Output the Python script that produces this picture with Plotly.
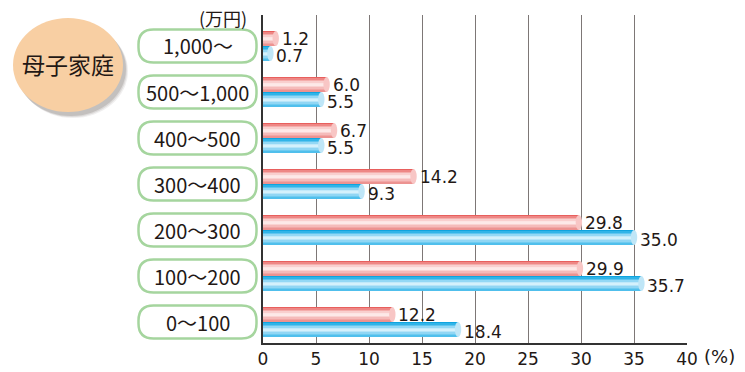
import plotly.graph_objects as go

# ---- data -------------------------------------------------------------
categories = ["1,000～", "500～1,000", "400～500", "300～400", "200～300", "100～200", "0～100"]
upper_vals = [1.2, 6.0, 6.7, 14.2, 29.8, 29.9, 12.2]   # pink bars
lower_vals = [0.7, 5.5, 5.5, 9.3, 35.0, 35.7, 18.4]    # blue bars
x_ticks = [0, 5, 10, 15, 20, 25, 30, 35, 40]
group_title = "母子家庭"
unit_y = "(万円)"
unit_x = "(%)"

# ---- geometry ---------------------------------------------------------
W, H = 745, 372
L, R, T, B = 263, 58, 15, 29
PW, PH = W - L - R, H - T - B
PX_PER_Y = 46.0
Y_RANGE = [-21 / PX_PER_Y, 6 + 31 / PX_PER_Y]
X_RANGE = [0, 40]
PX_PER_X = PW / (X_RANGE[1] - X_RANGE[0])

BAR_H = 15 / PX_PER_Y
N_STRIPS = 10
CAP_RX = 3.2 / PX_PER_X

FONT = "Noto Sans CJK JP"
NUM_FONT = "DejaVu Sans"
INK = "#231815"

pink_strips = ["#e85f5d", "#ee8785", "#f4adab", "#f9cfce", "#fce5e4",
               "#fde9e8", "#f9d3d2", "#f5bbba", "#f1a6a5", "#ec9391"]
blue_strips = ["#0fa4df", "#30b4e8", "#5fc5ef", "#93d8f5", "#c1e9fa",
               "#d4f1fc", "#b6e4f8", "#90d6f4", "#6ecbf0", "#50bfec"]
pink_cap = "#f8c6c5"
blue_cap = "#bfe6f7"


def px_x(p):
    return (p - L) / PW


def px_y(p):
    return (H - B - p) / PH


positions = [len(categories) - 1 - i for i in range(len(categories))]

fig = go.Figure()

# cylinder-style bars, built from thin horizontal strips
for i, col in enumerate(pink_strips):
    fig.add_trace(go.Bar(
        x=upper_vals, y=positions, orientation="h",
        width=BAR_H / N_STRIPS,
        offset=BAR_H - (i + 1) * BAR_H / N_STRIPS,
        marker=dict(color=col, line=dict(width=0)),
        hoverinfo="skip", showlegend=False,
    ))
for i, col in enumerate(blue_strips):
    fig.add_trace(go.Bar(
        x=lower_vals, y=positions, orientation="h",
        width=BAR_H / N_STRIPS,
        offset=-(i + 1) * BAR_H / N_STRIPS,
        marker=dict(color=col, line=dict(width=0)),
        hoverinfo="skip", showlegend=False,
    ))

shapes = []
annotations = []

# bar end caps and value labels
for pos, v in zip(positions, upper_vals):
    shapes.append(dict(type="circle", xref="x", yref="y", layer="above",
                       x0=v - CAP_RX, x1=v + CAP_RX, y0=pos, y1=pos + BAR_H,
                       fillcolor=pink_cap, line=dict(width=0)))
    annotations.append(dict(x=v, y=pos + BAR_H / 2, xref="x", yref="y",
                            text=f"{v:.1f}", showarrow=False, xanchor="left",
                            yanchor="middle", xshift=4, yshift=0,
                            font=dict(family=NUM_FONT, size=17, color=INK)))
for pos, v in zip(positions, lower_vals):
    shapes.append(dict(type="circle", xref="x", yref="y", layer="above",
                       x0=v - CAP_RX, x1=v + CAP_RX, y0=pos - BAR_H, y1=pos,
                       fillcolor=blue_cap, line=dict(width=0)))
    annotations.append(dict(x=v, y=pos - BAR_H / 2, xref="x", yref="y",
                            text=f"{v:.1f}", showarrow=False, xanchor="left",
                            yanchor="middle", xshift=4, yshift=-2,
                            font=dict(family=NUM_FONT, size=17, color=INK)))


# rounded category boxes
def pill_path(x0, y0, x1, y1, r):
    pts = []
    def P(x, y):
        return f"{px_x(x):.5f},{px_y(y):.5f}"
    pts.append("M " + P(x0 + r, y0))
    pts.append("L " + P(x1 - r, y0))
    pts.append("Q " + P(x1, y0) + " " + P(x1, y0 + r))
    pts.append("L " + P(x1, y1 - r))
    pts.append("Q " + P(x1, y1) + " " + P(x1 - r, y1))
    pts.append("L " + P(x0 + r, y1))
    pts.append("Q " + P(x0, y1) + " " + P(x0, y1 - r))
    pts.append("L " + P(x0, y0 + r))
    pts.append("Q " + P(x0, y0) + " " + P(x0 + r, y0))
    return " ".join(pts) + " Z"


BOX_L, BOX_R, BOX_HH = 138.5, 256.5, 16.5
for pos, cat in zip(positions, categories):
    cy = (H - B) - (pos - Y_RANGE[0]) * PX_PER_Y
    shapes.append(dict(type="path", xref="paper", yref="paper",
                       path=pill_path(BOX_L, cy - BOX_HH, BOX_R, cy + BOX_HH, 15),
                       fillcolor="white", line=dict(color="#a5d59e", width=2.5)))
    annotations.append(dict(x=px_x((BOX_L + BOX_R) / 2), y=px_y(cy),
                            xref="paper", yref="paper", text=cat,
                            showarrow=False, xanchor="center", yanchor="middle",
                            font=dict(family=FONT, size=20, color=INK)))

# title ellipse with soft shadow
ECX, ECY, ERX, ERY = 68, 65, 55, 47
for dx, dy, op in [(5, 6, 0.10), (4, 5, 0.15), (3, 4, 0.22)]:
    shapes.append(dict(type="circle", xref="paper", yref="paper",
                       x0=px_x(ECX - ERX + dx), x1=px_x(ECX + ERX + dx),
                       y0=px_y(ECY + ERY + dy), y1=px_y(ECY - ERY + dy),
                       fillcolor=f"rgba(110,100,95,{op})", line=dict(width=0)))
shapes.append(dict(type="circle", xref="paper", yref="paper",
                   x0=px_x(ECX - ERX), x1=px_x(ECX + ERX),
                   y0=px_y(ECY + ERY), y1=px_y(ECY - ERY),
                   fillcolor="#f8cfa3", line=dict(width=0)))
annotations.append(dict(x=px_x(ECX), y=px_y(ECY - 1), xref="paper", yref="paper",
                        text=group_title, showarrow=False, xanchor="center",
                        yanchor="middle",
                        font=dict(family=FONT, size=23, color=INK)))

# unit labels
annotations.append(dict(x=px_x(249), y=px_y(18), xref="paper", yref="paper",
                        text=unit_y, showarrow=False, xanchor="right",
                        yanchor="middle",
                        font=dict(family=FONT, size=18, color=INK)))
annotations.append(dict(x=px_x(702), y=px_y(356), xref="paper", yref="paper",
                        text=unit_x, showarrow=False, xanchor="left",
                        yanchor="middle",
                        font=dict(family=NUM_FONT, size=18, color=INK)))

fig.update_layout(
    width=W, height=H,
    margin=dict(l=L, r=R, t=T, b=B, autoexpand=False),
    paper_bgcolor="white", plot_bgcolor="white",
    barmode="overlay", bargap=0,
    showlegend=False,
    shapes=shapes, annotations=annotations,
    xaxis=dict(range=X_RANGE, tickvals=x_ticks, ticktext=[str(t) for t in x_ticks],
               showgrid=True, gridcolor="#7d7776", gridwidth=1.3,
               showline=True, linecolor="#333333", linewidth=1.5,
               zeroline=False, ticks="", ticklabelstandoff=0, automargin=False,
               tickfont=dict(family=NUM_FONT, size=17, color=INK), fixedrange=True),
    yaxis=dict(range=Y_RANGE, showgrid=False, showticklabels=False,
               showline=True, linecolor="#333333", linewidth=1.5,
               zeroline=False, ticks="", automargin=False, fixedrange=True),
)

fig.write_html("out.html")
